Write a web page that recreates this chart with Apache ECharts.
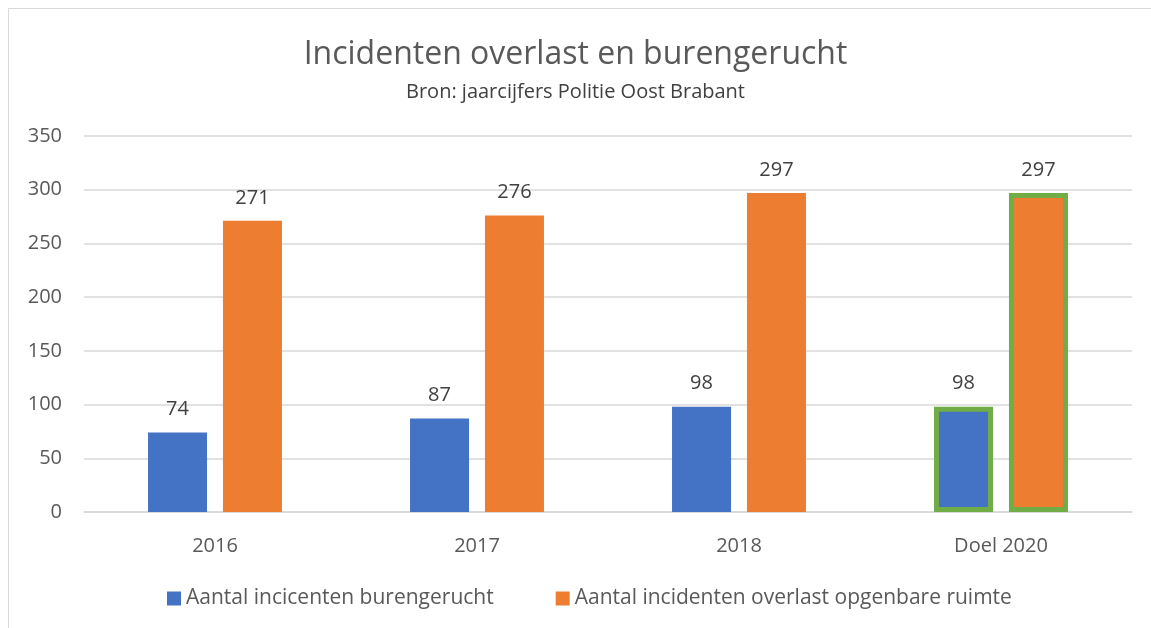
<!DOCTYPE html>
<html>
<head>
<meta charset="utf-8">
<script src="https://cdn.jsdelivr.net/npm/echarts@6/dist/echarts.min.js"></script>
<style>
  html, body { margin: 0; padding: 0; background: #fff; }
  #chart { width: 1151px; height: 628px; }
</style>
</head>
<body>
<div id="chart"></div>
<script>
const categories = ['2016', '2017', '2018', 'Doel 2020']
const burengerucht = [74, 87, 98, 98]
const overlast = [271, 276, 297, 297]
const yTicks = [0, 50, 100, 150, 200, 250, 300, 350]

// the target year is outlined in green
const targetIndex = 3
const outline = { borderColor: '#70AD47', borderWidth: 5 }

const toData = (values) =>
  values.map((v, i) => (i === targetIndex ? { value: v, itemStyle: outline } : v))

const font = 'Open Sans'
const labelStyle = {
  show: true,
  position: 'top',
  distance: 13,
  color: '#404040',
  fontSize: 20,
  fontFamily: font,
}

const chart = echarts.init(document.getElementById('chart'))
chart.setOption({
  animation: false,
  graphic: [
    {
      type: 'rect',
      shape: { x: 8.5, y: 8.5, width: 1160, height: 640 },
      style: { fill: 'none', stroke: '#D9D9D9', lineWidth: 1 },
      silent: true,
    },
  ],
  title: {
    text: 'Incidenten overlast en burengerucht',
    subtext: 'Bron: jaarcijfers Politie Oost Brabant',
    left: 'center',
    top: 34,
    itemGap: 11,
    textStyle: { color: '#595959', fontSize: 32, fontWeight: 'normal', fontFamily: font },
    subtextStyle: { color: '#404040', fontSize: 20, fontFamily: font },
  },
  legend: {
    bottom: 14,
    left: 162,
    itemWidth: 14,
    itemHeight: 14,
    itemGap: 62,
    itemStyle: { borderWidth: 0 },
    icon: 'rect',
    textStyle: { color: '#595959', fontSize: 21, fontFamily: font },
  },
  grid: { left: 84, right: 19, top: 136, bottom: 116 },
  xAxis: {
    type: 'category',
    data: categories,
    axisTick: { show: false },
    axisLine: { lineStyle: { color: '#D9D9D9', width: 1.5 } },
    axisLabel: { color: '#595959', fontSize: 20, fontFamily: font, margin: 24 },
  },
  yAxis: {
    type: 'value',
    min: yTicks[0],
    max: yTicks[yTicks.length - 1],
    interval: yTicks[1] - yTicks[0],
    axisLine: { show: false },
    axisTick: { show: false },
    splitLine: { lineStyle: { color: '#D9D9D9', width: 1.5 } },
    axisLabel: { color: '#595959', fontSize: 20, fontFamily: font, margin: 22 },
  },
  series: [
    {
      name: 'Aantal incicenten burengerucht',
      type: 'bar',
      data: toData(burengerucht),
      barWidth: 59,
      barGap: '27%',
      itemStyle: { color: '#4472C4' },
      label: labelStyle,
    },
    {
      name: 'Aantal incidenten overlast opgenbare ruimte',
      type: 'bar',
      data: toData(overlast),
      barWidth: 59,
      itemStyle: { color: '#ED7D31' },
      label: labelStyle,
    },
  ],
})
</script>
</body>
</html>
